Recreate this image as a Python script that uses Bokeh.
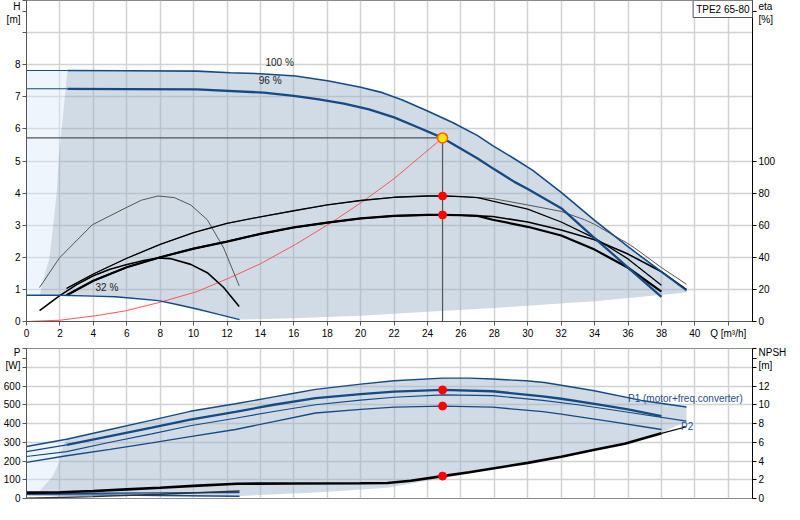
from bokeh.plotting import figure
from bokeh.models import Range1d, LinearAxis, FixedTicker, Label
from bokeh.layouts import column
from bokeh.embed import file_html
from bokeh.resources import INLINE

FONT = "Liberation Sans"
BLUE = "#154a85"

# ---------------- top chart data (Q in m3/h, H in m, eta in %) ----------------
q_h100 = [0, 2.45, 6, 10.2, 12.2, 14, 16.1, 18.1, 20, 21.3, 22.5, 24, 25.5, 27, 27.9, 29.2, 30.3, 32, 34, 36, 38, 39.5]
h_100 = [7.82, 7.82, 7.81, 7.80, 7.75, 7.72, 7.65, 7.49, 7.3, 7.13, 6.9, 6.56, 6.2, 5.79, 5.48, 5.07, 4.71, 4.02, 3.15, 2.33, 1.55, 0.96]

q_h96 = [0, 2.45, 6, 10.2, 14.2, 16, 17.5, 19, 20.5, 22, 23.2, 24.9, 26, 27, 28, 29.2, 30, 32, 34, 36, 38]
h_96 = [7.25, 7.25, 7.24, 7.23, 7.13, 7.03, 6.92, 6.79, 6.61, 6.36, 6.1, 5.72, 5.38, 5.08, 4.74, 4.35, 4.13, 3.53, 2.6, 1.68, 0.77]

q_h32 = [0, 0.8, 2, 4, 5.3, 6, 7.9, 9, 10.2, 11.5, 12.75]
h_32 = [0.82, 0.82, 0.82, 0.79, 0.77, 0.74, 0.65, 0.53, 0.39, 0.22, 0.06]

q_low = [12.75, 16, 20, 24, 28, 34, 39.5]
h_low = [0.06, 0.1, 0.18, 0.3, 0.42, 0.63, 0.9]

q_left = [0.8, 1.0, 1.37, 1.6, 1.81, 1.93, 2.2, 2.45]
h_left = [0.82, 1.3, 1.98, 3.0, 4.04, 5.07, 6.5, 7.82]

q_eta = [2.4, 4, 6, 8, 10, 12, 14, 16, 18, 20, 22, 24, 25, 26, 27]
eta_u = [20.6, 29.6, 39.4, 48, 55.4, 61.2, 65.2, 69, 72.6, 75.4, 77.4, 78.2, 78.2, 77.8, 77.2]
eta_l = [16.4, 25.4, 33.8, 40, 45.4, 49.8, 54.6, 58.6, 61.6, 64.2, 65.8, 66.4, 66.4, 66.2, 65.8]

q_u100_tail = [27.9, 30, 32, 33.4, 34, 36, 36.4, 38, 39.5]
eta_u100_tail = [76.6, 72.6, 68.6, 63.4, 60.5, 48.5, 45.8, 33.6, 23.2]
q_u96_tail = [27.9, 30, 32, 34, 36, 38]
eta_u96_tail = [75, 70, 62, 52, 39, 22.6]
q_l100_tail = [27.9, 30, 32, 34, 36, 38, 39.5]
eta_l100_tail = [65.4, 62, 57, 51, 42, 31, 19.8]
q_l96_tail = [27.9, 30, 32, 34, 36, 38]
eta_l96_tail = [63.4, 59, 53.6, 44.8, 33.5, 18.6]

q_e32 = [0.78, 1.97, 3.93, 5.9, 6.88, 7.87, 8.85, 9.83, 10.82, 11.8, 12.73]
eta_32_pump = [21.2, 39.6, 60.2, 70.6, 75.6, 78.2, 77.2, 72.6, 63.4, 45.8, 22.2]
q_e32t = [0.78, 1.97, 3, 4, 5, 5.9, 7, 7.87, 8.6, 9.83, 10.82, 11.8, 12.73]
eta_32_tot = [6.8, 16, 23, 28.5, 32.5, 35.2, 38, 39.6, 39.2, 35.6, 30.4, 21.2, 9.4]

q_sys = [0, 2, 4.3, 6, 8, 10.2, 12.2, 14, 16.1, 18.3, 20.1, 22, 24.9]
h_sys = [0, 0.04, 0.19, 0.34, 0.6, 0.93, 1.37, 1.8, 2.4, 3.1, 3.73, 4.45, 5.72]

q_op = 24.9
h_op = 5.72
eta_op = [78.2, 66.4]

# ---------------- bottom chart data (P in W, NPSH in m) ----------------
q_p1_100 = [0, 2.4, 5, 7.5, 9.8, 12.5, 14.8, 16.1, 17.3, 20, 22, 24.9, 26.5, 27.9, 29.9, 31, 33.9, 36.8, 39.5]
p1_100 = [277, 316, 368, 418, 465, 505, 542, 563, 582, 610, 628, 642, 642, 637, 628, 619, 576, 523, 488]
q_p1_96 = [0, 2.4, 5, 7.5, 9.8, 12.5, 14.8, 17.3, 20, 22, 24.9, 27.9, 30.9, 32, 34, 36, 38]
p1_96 = [250, 286, 333, 378, 421, 462, 500, 535, 557, 570, 579, 572, 545, 532, 505, 475, 439]
q_p2_100 = [0, 2.4, 5, 7.5, 9.8, 12.5, 14.8, 17.3, 20, 22, 24.9, 27.9, 30.9, 33, 36, 39.5]
p2_100 = [224, 250, 300, 345, 388, 428, 464, 500, 525, 540, 553, 549, 523, 500, 460, 413]
q_p2_96 = [0, 2.4, 5, 7.5, 9.8, 12.5, 14.8, 17.3, 20, 22, 24.9, 27.9, 30.9, 32, 35, 38]
p2_96 = [193, 228, 262, 297, 330, 368, 410, 456, 475, 487, 493, 487, 463, 450, 410, 368]

q_npsh = [0, 2, 4, 6, 8, 10, 12.6, 16, 20, 21.6, 23, 24.9, 26.5, 27.9, 30, 32, 34, 35.8, 38]
npsh = [0.63, 0.66, 0.8, 0.97, 1.15, 1.35, 1.58, 1.6, 1.62, 1.65, 1.9, 2.39, 2.8, 3.2, 3.8, 4.45, 5.2, 5.83, 6.95]
q_npsh_ext = [38, 39.5]
npsh_ext = [6.95, 7.65]

q_32b = [0, 4, 8, 12.75]
p1_32 = [26, 28, 30, 32]
p2_32 = [21, 19, 16, 12]
npsh_32 = [0.02, 0.2, 0.45, 0.8]

q_pbot = [39.5, 38, 35.8, 31.9, 27.9, 26.2, 21.6, 17.3, 12.75, 8, 4, 0.6]
p_bot = [413, 350, 292, 225, 158, 130, 58, 32, 14, 20, 24, 27]
q_pleft = [0.6, 0.97, 1.57, 1.97, 2.15, 2.4]
p_left = [27, 58, 119, 197, 276, 316]

p1_op = 579
p2_op = 493
npsh_op = 2.39

x_ticks = list(range(0, 44, 2))
h_ticks = list(range(0, 11))
eta_ticks = [0, 20, 40, 60, 80, 100]
p_ticks = list(range(0, 900, 100))
npsh_ticks = list(range(0, 17, 2))

# unit captions placed as tick labels at the top of each axis
H_CAP, ETA_CAP, P_CAP, NPSH_CAP = 9.65, 193, 745, 14.9

# ---------------- helpers ----------------
FW = 726


def style_axis(ax, line_color="#555"):
    ax.major_label_text_font = FONT
    ax.major_label_text_font_size = "10px"
    ax.major_label_text_color = "#000"
    ax.axis_line_color = line_color
    ax.axis_line_width = 1
    ax.major_tick_line_color = line_color
    ax.major_tick_out = 4
    ax.major_tick_in = 0
    ax.minor_tick_out = 0
    ax.minor_tick_in = 0
    ax.major_label_standoff = 2


def style_fig(p):
    p.background_fill_color = "white"
    p.border_fill_color = "white"
    p.outline_line_color = "#8a8a8a"
    p.outline_line_width = 1
    p.grid.grid_line_color = "#d2d2d2"
    p.grid.grid_line_width = 1.5


def lab(p, x, y, text, align="left", baseline="middle", color="#000", units="data", **kw):
    p.add_layout(Label(x=x, y=y, x_units=units, y_units=units, text=text,
                       text_font=FONT, text_font_size="10px", text_color=color,
                       text_align=align, text_baseline=baseline, **kw))


# ---------------- top figure ----------------
p1 = figure(frame_width=FW, frame_height=321, x_range=Range1d(0, 43.45), y_range=Range1d(0, 10),
            output_backend="svg", toolbar_location=None, tools="",
            min_border_left=24, min_border_right=34, min_border_top=0, min_border_bottom=20)
style_fig(p1)
p1.extra_y_ranges = {"eta": Range1d(0, 200)}

p1.xaxis.ticker = FixedTicker(ticks=x_ticks)
p1.xaxis.major_label_overrides = {42: "Q [m³/h]"}
p1.yaxis.ticker = FixedTicker(ticks=h_ticks + [H_CAP])
p1.yaxis.major_label_overrides = {9: "", 10: "", H_CAP: "H\n[m]"}
p1.ygrid.ticker = FixedTicker(ticks=h_ticks)
for ax in p1.xaxis + p1.yaxis:
    style_axis(ax)
ax_eta = LinearAxis(y_range_name="eta", ticker=FixedTicker(ticks=eta_ticks + [ETA_CAP]))
ax_eta.major_label_overrides = {ETA_CAP: "eta\n[%]"}
style_axis(ax_eta, "#000")
p1.add_layout(ax_eta, "right")

# light region at low flow
lx = [0] + q_left[::-1] + [0]
ly = [h_left[-1]] + h_left[::-1] + [h_left[0]]
p1.patch(lx, ly, fill_color="#d9e9f8", fill_alpha=0.45, line_color=None)
# main operating region
sx = q_h100[1:] + q_low[::-1] + q_h32[1:][::-1] + q_left
sy = h_100[1:] + h_low[::-1] + h_32[1:][::-1] + h_left
p1.patch(sx, sy, fill_color="#97afc7", fill_alpha=0.45, line_color=None)

# operating point lines and system curve
p1.line([0, q_op], [h_op, h_op], line_color="#555", line_width=1.2)
p1.line([q_op, q_op], [0, h_op], line_color="#555", line_width=1.2)
p1.line(q_sys, h_sys, line_color="#ff5555", line_width=1)

# efficiency curves
p1.line(q_e32, eta_32_pump, y_range_name="eta", line_color="#555", line_width=1)
p1.line(q_e32t, eta_32_tot, y_range_name="eta", line_color="#000", line_width=1.6)
p1.line(q_eta + q_u100_tail, eta_u + eta_u100_tail, y_range_name="eta", line_color="#555", line_width=1)
p1.line(q_eta + q_u96_tail, eta_u + eta_u96_tail, y_range_name="eta", line_color="#000", line_width=1.3)
p1.line(q_eta + q_l100_tail, eta_l + eta_l100_tail, y_range_name="eta", line_color="#000", line_width=1.6)
p1.line(q_eta + q_l96_tail, eta_l + eta_l96_tail, y_range_name="eta", line_color="#000", line_width=2.2)

# head curves (thin outside the allowed range, thick inside)
p1.line(q_h32, h_32, line_color=BLUE, line_width=1.4)
p1.line(q_h100[:2], h_100[:2], line_color=BLUE, line_width=1.1)
p1.line(q_h100[1:], h_100[1:], line_color=BLUE, line_width=1.6)
p1.line(q_h96[:2], h_96[:2], line_color=BLUE, line_width=1.1)
p1.line(q_h96[1:], h_96[1:], line_color=BLUE, line_width=2.3)

p1.scatter([q_op, q_op], eta_op, y_range_name="eta", size=8, fill_color="#ff0000", line_color="#ff0000")
p1.scatter([q_op], [h_op], size=10, fill_color="#ffe600", line_color="#ff5a00", line_width=1.5)

lab(p1, 14.3, 8.08, "100 %", color="#222")
lab(p1, 13.9, 7.51, "96 %", color="#222")
lab(p1, 4.13, 1.07, "32 %", color="#222")
lab(p1, FW, 321, "TPE2 65-80", align="right", baseline="top", units="screen",
    border_line_color="#555", background_fill_color="white", padding=3)

# ---------------- bottom figure ----------------
p2 = figure(frame_width=FW, frame_height=150, x_range=Range1d(0, 43.45), y_range=Range1d(0, 800),
            output_backend="svg", toolbar_location=None, tools="",
            min_border_left=24, min_border_right=34, min_border_top=7, min_border_bottom=6)
style_fig(p2)
p2.extra_y_ranges = {"npsh": Range1d(0, 16)}
p2.xaxis.ticker = FixedTicker(ticks=x_ticks)
p2.xaxis.visible = False
p2.yaxis.ticker = FixedTicker(ticks=p_ticks + [P_CAP])
p2.yaxis.major_label_overrides = {700: "", 800: "", P_CAP: "P\n[W]"}
p2.ygrid.ticker = FixedTicker(ticks=p_ticks)
for ax in p2.yaxis:
    style_axis(ax)
ax_npsh = LinearAxis(y_range_name="npsh", ticker=FixedTicker(ticks=npsh_ticks + [NPSH_CAP]))
ax_npsh.major_label_overrides = {14: "", 16: "", NPSH_CAP: "NPSH\n[m]"}
style_axis(ax_npsh, "#000")
p2.add_layout(ax_npsh, "right")

blx = [0, q_p1_100[1]] + q_pleft[::-1][1:] + [0]
bly = [p1_100[0], p1_100[1]] + p_left[::-1][1:] + [p_left[0]]
p2.patch(blx, bly, fill_color="#d9e9f8", fill_alpha=0.45, line_color=None)
bsx = q_p1_100[1:] + q_pbot + q_pleft
bsy = p1_100[1:] + p_bot + p_left
p2.patch(bsx, bsy, fill_color="#97afc7", fill_alpha=0.45, line_color=None)

p2.line(q_32b, p1_32, line_color=BLUE, line_width=1.3)
p2.line(q_32b, p2_32, line_color=BLUE, line_width=1.3)
p2.line(q_32b, npsh_32, y_range_name="npsh", line_color="#333", line_width=1.5)

p2.line(q_p1_100, p1_100, line_color=BLUE, line_width=1.4)
p2.line(q_p1_96[:2], p1_96[:2], line_color=BLUE, line_width=1.2)
p2.line(q_p1_96[1:], p1_96[1:], line_color=BLUE, line_width=2.3)
p2.line(q_p2_100, p2_100, line_color=BLUE, line_width=1.2)
p2.line(q_p2_96, p2_96, line_color=BLUE, line_width=1.3)
p2.line(q_npsh, npsh, y_range_name="npsh", line_color="#000", line_width=2.6)
p2.line(q_npsh_ext, npsh_ext, y_range_name="npsh", line_color="#000", line_width=1.2)

p2.scatter([q_op, q_op], [p1_op, p2_op], size=8, fill_color="#ff0000", line_color="#ff0000")
p2.scatter([q_op], [npsh_op], y_range_name="npsh", size=8, fill_color="#ff0000", line_color="#ff0000")

lab(p2, 36.0, 535, "P1 (motor+freq.converter)", color="#1f4f8a")
lab(p2, 39.17, 383, "P2", color="#1f4f8a")

layout = column(p1, p2)
open("out.html", "w").write(file_html(layout, INLINE))
